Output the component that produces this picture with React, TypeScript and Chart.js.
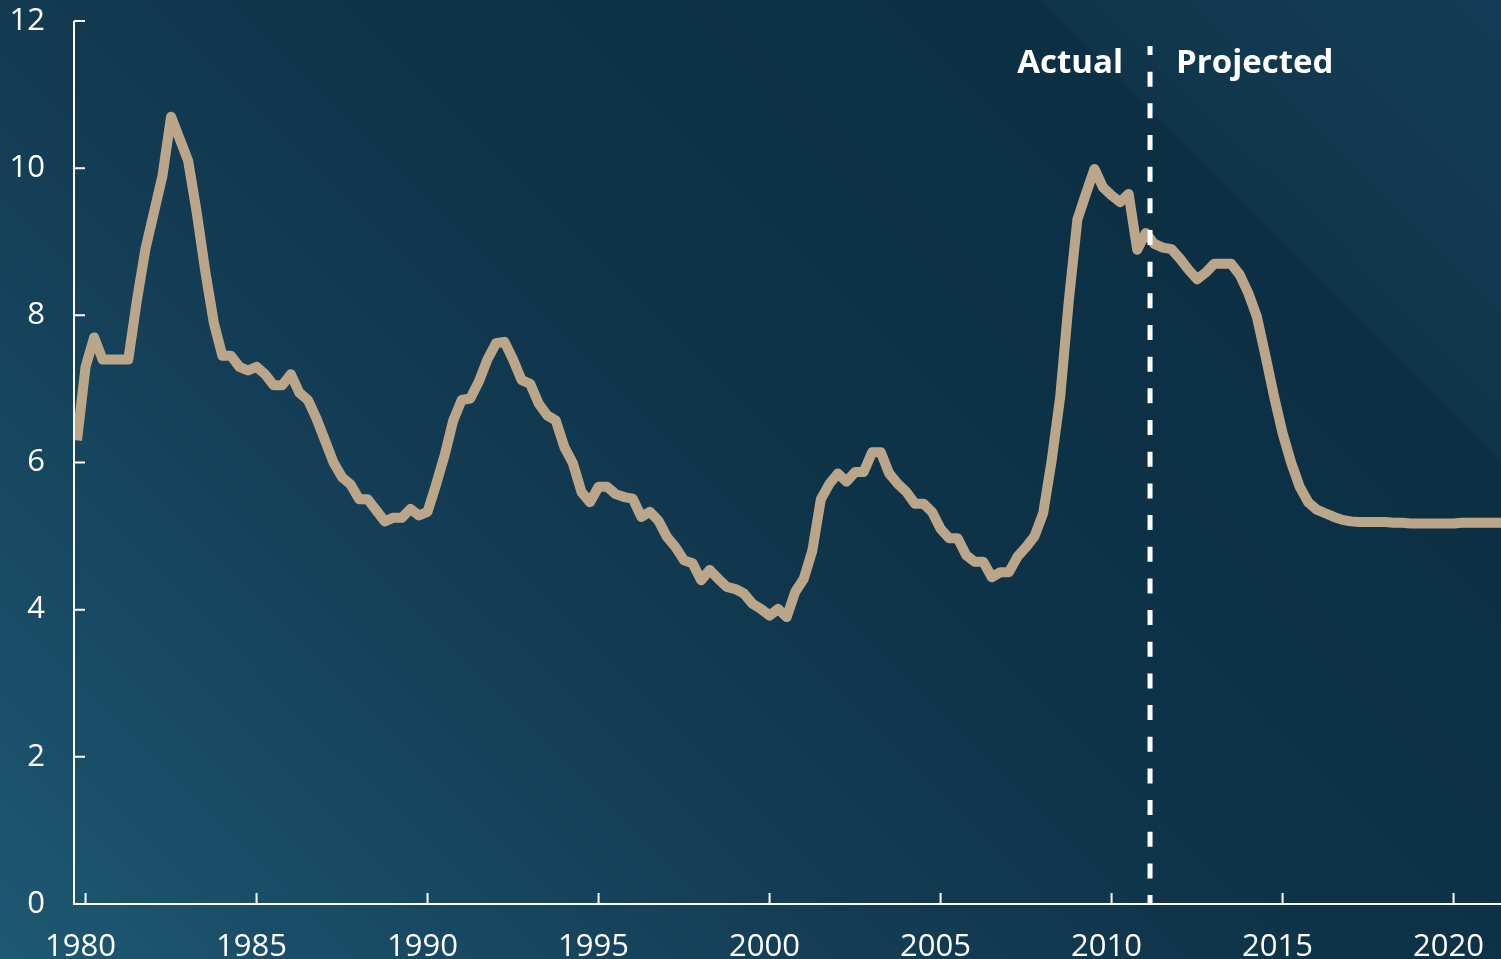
import React, { useEffect, useRef } from "react";
import { Chart, registerables } from "chart.js";

Chart.register(...registerables);

const startYear = 1980;

// Quarterly civilian unemployment rate, percent (1980Q1 – 2011Q2)
const actualRates = [
  6.3, 7.3, 7.7, 7.4, // 1980
  7.4, 7.4, 7.4, 8.2, // 1981
  8.9, 9.4, 9.9, 10.7, // 1982
  10.4, 10.1, 9.4, 8.6, // 1983
  7.9, 7.45, 7.45, 7.3, // 1984
  7.25, 7.3, 7.2, 7.05, // 1985
  7.05, 7.2, 6.95, 6.85, // 1986
  6.6, 6.3, 6.0, 5.8, // 1987
  5.7, 5.5, 5.5, 5.35, // 1988
  5.2, 5.25, 5.25, 5.37, // 1989
  5.28, 5.33, 5.7, 6.1, // 1990
  6.57, 6.85, 6.87, 7.1, // 1991
  7.4, 7.62, 7.64, 7.4, // 1992
  7.12, 7.07, 6.8, 6.64, // 1993
  6.57, 6.21, 5.99, 5.6, // 1994
  5.46, 5.67, 5.67, 5.57, // 1995
  5.53, 5.51, 5.26, 5.33, // 1996
  5.21, 4.99, 4.85, 4.67, // 1997
  4.63, 4.4, 4.54, 4.42, // 1998
  4.31, 4.28, 4.22, 4.08, // 1999
  4.01, 3.92, 4.01, 3.9, // 2000
  4.24, 4.42, 4.8, 5.5, // 2001
  5.71, 5.85, 5.74, 5.87, // 2002
  5.87, 6.14, 6.14, 5.85, // 2003
  5.71, 5.6, 5.44, 5.44, // 2004
  5.33, 5.1, 4.97, 4.97, // 2005
  4.74, 4.65, 4.65, 4.44, // 2006
  4.51, 4.51, 4.72, 4.85, // 2007
  5.0, 5.31, 6.03, 6.9, // 2008
  8.2, 9.3, 9.65, 9.99, // 2009
  9.74, 9.63, 9.54, 9.65, // 2010
  8.89, 9.12, // 2011 Q1–Q2
];

// CBO projection (2011Q3 – 2021Q4)
const projectedRates = [
  8.97, 8.92, // 2011 Q3–Q4
  8.9, 8.77, 8.62, 8.49, // 2012
  8.58, 8.7, 8.7, 8.7, // 2013
  8.55, 8.3, 7.98, 7.45, // 2014
  6.9, 6.4, 6.0, 5.67, // 2015
  5.46, 5.36, 5.31, 5.26, // 2016
  5.22, 5.2, 5.19, 5.19, // 2017
  5.19, 5.19, 5.18, 5.18, // 2018
  5.17, 5.17, 5.17, 5.17, // 2019
  5.17, 5.17, 5.18, 5.18, // 2020
  5.18, 5.18, 5.18, 5.18, // 2021
];

const yTicks = [0, 2, 4, 6, 8, 10, 12];
const xTickYears = [1980, 1985, 1990, 1995, 2000, 2005, 2010, 2015, 2020];
const xRange = [1979.912, 2021.637];
const dividerYear = 2011.375; // between 2011Q2 (last actual) and 2011Q3
const labelActual = "Actual";
const labelProjected = "Projected";

const allRates = [...actualRates, ...projectedRates];
const points = allRates.map((v, i) => ({ x: startYear + i / 4, y: v }));

const overlayPlugin = {
  id: "overlay",
  afterDraw(chart: any) {
    const { ctx, chartArea, scales } = chart;
    const x = scales.x;
    const y = scales.y;
    const left = chartArea.left;
    const bottom = chartArea.bottom;
    const top = y.getPixelForValue(12);
    ctx.save();
    ctx.strokeStyle = "#ffffff";
    ctx.lineWidth = 2;
    ctx.lineCap = "butt";
    ctx.beginPath();
    ctx.moveTo(left, top);
    ctx.lineTo(left, bottom);
    ctx.lineTo(chartArea.right, bottom);
    ctx.stroke();
    ctx.beginPath();
    y.ticks.forEach((t: any) => {
      const py = y.getPixelForValue(t.value);
      ctx.moveTo(left, py);
      ctx.lineTo(left + 11, py);
    });
    x.ticks.forEach((t: any) => {
      const px = x.getPixelForValue(t.value);
      ctx.moveTo(px, bottom);
      ctx.lineTo(px, bottom - 11);
    });
    ctx.stroke();

    const dx = x.getPixelForValue(dividerYear);
    ctx.lineWidth = 5;
    ctx.setLineDash([15, 16.67]);
    ctx.lineDashOffset = 6;
    ctx.beginPath();
    ctx.moveTo(dx, 46);
    ctx.lineTo(dx, bottom);
    ctx.stroke();
    ctx.setLineDash([]);

    ctx.fillStyle = "#ffffff";
    ctx.font = 'bold 33px "Open Sans"';
    ctx.textBaseline = "alphabetic";
    ctx.textAlign = "right";
    ctx.fillText(labelActual, dx - 27, 73);
    ctx.textAlign = "left";
    ctx.fillText(labelProjected, dx + 26, 73);
    ctx.restore();
  },
};

export default function App() {
  const canvasRef = useRef<HTMLCanvasElement | null>(null);

  useEffect(() => {
    const canvas = canvasRef.current;
    if (!canvas) return;
    const chart = new Chart(canvas, {
      type: "line",
      data: {
        datasets: [
          {
            data: points,
            borderColor: "#bca68a",
            borderWidth: 10,
            borderJoinStyle: "round",
            borderCapStyle: "butt",
            pointRadius: 0,
            tension: 0,
            fill: false,
          },
        ],
      },
      options: {
        animation: false,
        responsive: false,
        devicePixelRatio: 1,
        layout: { padding: { top: 21, right: 0, bottom: 0, left: 0 } },
        plugins: {
          legend: { display: false },
          tooltip: { enabled: false },
        },
        scales: {
          x: {
            type: "linear",
            min: xRange[0],
            max: xRange[1],
            grid: { display: false, drawTicks: false },
            border: { display: false },
            afterFit: (s: any) => {
              s.height = 55;
              s.paddingLeft = 0;
              s.paddingRight = 0;
              s.paddingTop = 0;
              s.paddingBottom = 0;
            },
            afterBuildTicks: (s: any) => {
              s.ticks = xTickYears.map((yr) => ({ value: yr + 0.25 }));
            },
            ticks: {
              color: "#ffffff",
              font: { family: '"Open Sans"', size: 31 },
              padding: 25,
              labelOffset: -5,
              maxRotation: 0,
              autoSkip: false,
              callback: (_v: any, i: number) => String(xTickYears[i]),
            },
          },
          y: {
            min: 0,
            max: 12,
            grid: { display: false, drawTicks: false },
            border: { display: false },
            afterFit: (s: any) => {
              s.width = 74;
              s.paddingLeft = 0;
              s.paddingRight = 0;
              s.paddingTop = 0;
              s.paddingBottom = 0;
            },
            afterBuildTicks: (s: any) => {
              s.ticks = yTicks.map((v) => ({ value: v }));
            },
            ticks: {
              color: "#ffffff",
              font: { family: '"Open Sans"', size: 31 },
              padding: 29,
              callback: (v: any) => String(v),
            },
          },
        },
      },
      plugins: [overlayPlugin],
    });
    return () => chart.destroy();
  }, []);

  return (
    <div
      style={{
        position: "fixed",
        left: 0,
        top: 0,
        width: 1501,
        height: 959,
        background:
          "linear-gradient(45deg, #1e5872 0%, #1a4e68 12%, #143f57 32%, #0f354b 50%, #0d3146 65%, #0c2f44 81.2%, #10354a 81.4%, #123950 90%, #123d56 100%)",
      }}
    >
      <canvas ref={canvasRef} width={1501} height={959} style={{ display: "block" }} />
    </div>
  );
}
